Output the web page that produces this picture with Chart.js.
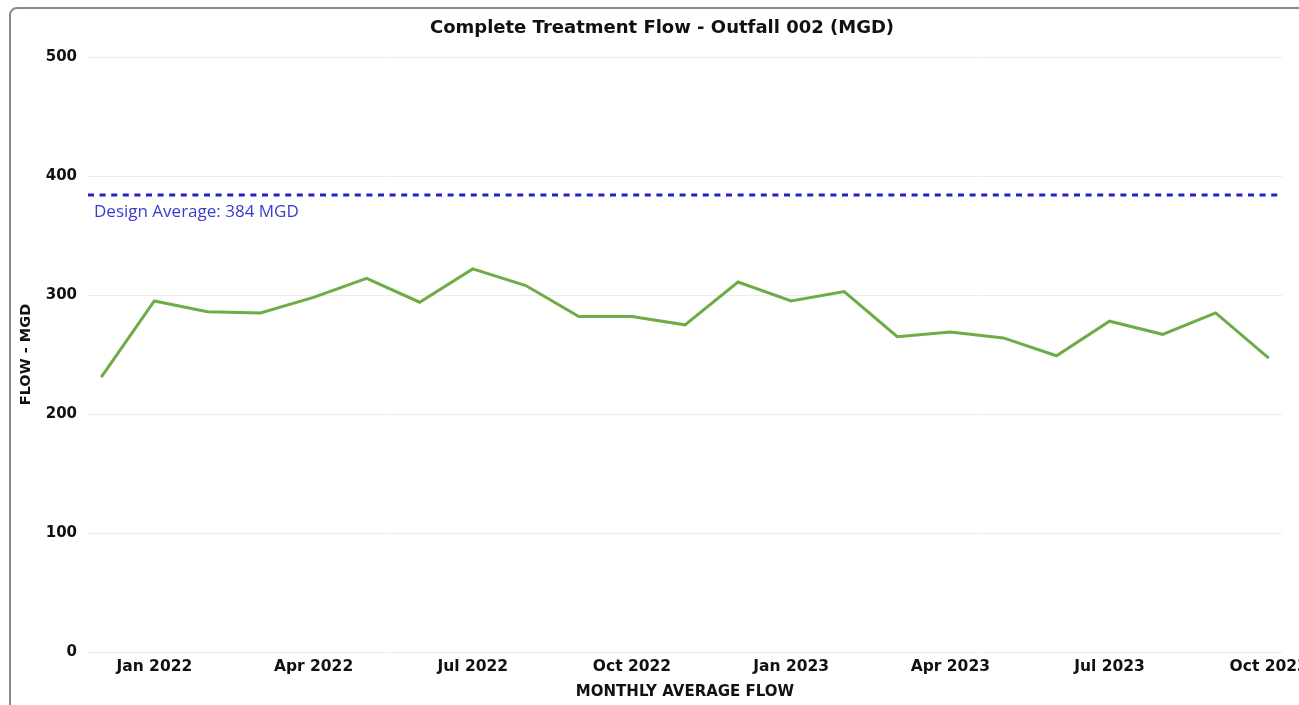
<!DOCTYPE html>
<html>
<head>
<meta charset="utf-8">
<script src="https://cdn.jsdelivr.net/npm/chart.js@4.4.1/dist/chart.umd.min.js"></script>
<style>
  html, body { margin: 0; padding: 0; background: #ffffff; overflow: hidden; }
  #frame { position: absolute; left: 9px; top: 7px; width: 1400px; height: 800px;
           border: 2px solid #8a8a8a; border-radius: 8px; box-sizing: border-box; }
  #wrap { position: absolute; left: 0; top: 0; width: 1324px; height: 705px; }
</style>
</head>
<body>
<div id="frame"></div>
<div id="wrap"><canvas id="c"></canvas></div>
<script>
// ---- data ----
const months = ['Dec 2021','Jan 2022','Feb 2022','Mar 2022','Apr 2022','May 2022','Jun 2022',
  'Jul 2022','Aug 2022','Sep 2022','Oct 2022','Nov 2022','Dec 2022','Jan 2023','Feb 2023',
  'Mar 2023','Apr 2023','May 2023','Jun 2023','Jul 2023','Aug 2023','Sep 2023','Oct 2023'];
const flowMGD = [231, 295, 286, 285, 298, 314, 294, 322, 308, 282, 282, 275, 311, 295, 303,
  265, 269, 264, 249, 278, 267, 285, 247];
const tickMonths = ['Jan 2022','Apr 2022','Jul 2022','Oct 2022','Jan 2023','Apr 2023','Jul 2023','Oct 2023'];
const yTicks = [0, 100, 200, 300, 400, 500];
const designAverage = 384;
const designLabel = 'Design Average: 384 MGD';
const xMin = -0.25, xMax = 22.25;

const flowPoints = flowMGD.map((v, i) => ({ x: i, y: v }));
const designPoints = [{ x: xMin, y: designAverage }, { x: xMax, y: designAverage }];

const BOLD = '"DejaVu Sans", "Liberation Sans", sans-serif';

const designLabelPlugin = {
  id: 'designLabel',
  afterDatasetsDraw(chart) {
    const { ctx, chartArea, scales } = chart;
    const y = scales.y.getPixelForValue(designAverage);
    ctx.save();
    ctx.font = '17px "Open Sans", sans-serif';
    ctx.fillStyle = '#3b3bcc';
    ctx.textAlign = 'left';
    ctx.textBaseline = 'middle';
    ctx.fillText(designLabel, chartArea.left + 6, y + 17);
    ctx.restore();
  }
};

new Chart(document.getElementById('c'), {
  type: 'line',
  data: {
    datasets: [
      { label: 'Flow', data: flowPoints, borderColor: '#6dac47', borderWidth: 3,
        pointRadius: 0, tension: 0, fill: false },
      { label: 'Design Average', data: designPoints, borderColor: '#2222c4', borderWidth: 3,
        borderDash: [6, 5.6], pointRadius: 0, fill: false }
    ]
  },
  options: {
    responsive: true,
    maintainAspectRatio: false,
    animation: false,
    layout: { padding: 0 },
    plugins: {
      legend: { display: false },
      tooltip: { enabled: false },
      title: {
        display: true,
        text: 'Complete Treatment Flow - Outfall 002 (MGD)',
        color: '#111111',
        font: { family: BOLD, size: 18, weight: 'bold' },
        padding: { top: 17.5, bottom: 18 }
      }
    },
    scales: {
      x: {
        type: 'linear',
        min: xMin, max: xMax,
        grid: { display: false, drawTicks: false },
        border: { display: false },
        afterBuildTicks(scale) {
          scale.ticks = tickMonths.map(m => ({ value: months.indexOf(m) }));
        },
        afterFit(scale) { scale.height = 53; scale.paddingRight = 42; scale.paddingLeft = 0; },
        ticks: {
          autoSkip: false, maxRotation: 0, minRotation: 0, padding: 6,
          color: '#111111',
          font: { family: BOLD, size: 15.5, weight: 'bold' },
          callback: (v) => months[v]
        },
        title: {
          display: true, text: 'MONTHLY AVERAGE FLOW', color: '#111111',
          font: { family: BOLD, size: 15, weight: 'bold' },
          padding: { top: 0, bottom: 4 }
        }
      },
      y: {
        min: 0, max: 500,
        grid: { color: '#ececec', lineWidth: 1, drawTicks: false },
        border: { display: false },
        afterBuildTicks(scale) { scale.ticks = yTicks.map(v => ({ value: v })); },
        afterFit(scale) { scale.width = 88; },
        ticks: {
          padding: 11, color: '#111111',
          font: { family: BOLD, size: 15, weight: 'bold' }
        },
        title: {
          display: true, text: 'FLOW - MGD', color: '#111111',
          font: { family: BOLD, size: 14.5, weight: 'bold' },
          padding: { top: 18, bottom: 0 }
        }
      }
    }
  },
  plugins: [designLabelPlugin]
});
</script>
</body>
</html>
